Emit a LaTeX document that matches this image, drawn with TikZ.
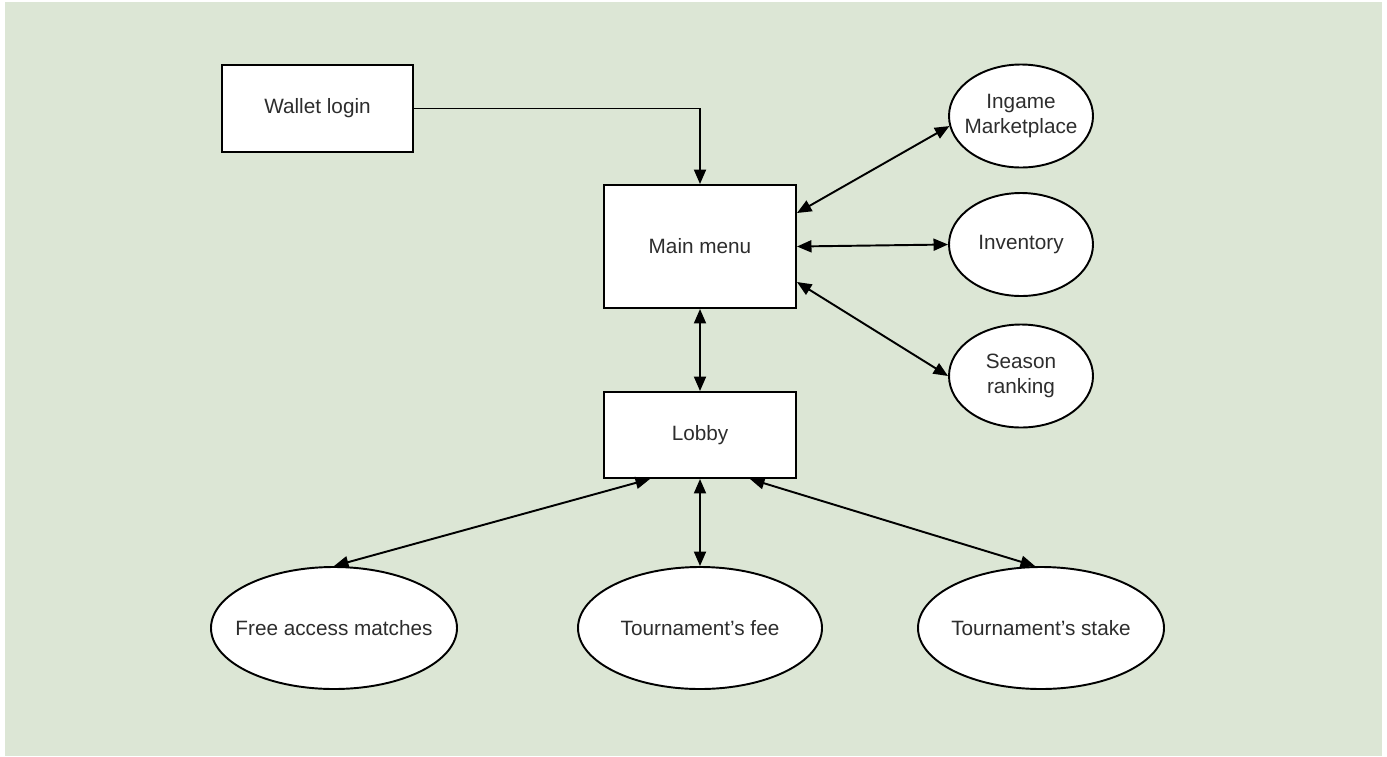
\documentclass[tikz,border=0pt]{standalone}
\usepackage{fontspec}
\setmainfont{Liberation Sans}
\usepackage{tikz}
\usetikzlibrary{arrows.meta,positioning,shapes}

\definecolor{bggreen}{RGB}{220,230,213}
\definecolor{txtgray}{RGB}{45,45,45}

\tikzset{
	box/.style={draw, fill=white, line width=1.1pt, minimum width=3.84cm, text=txtgray},
	oval/.style={draw, ellipse, fill=white, line width=1.1pt, inner xsep=-0.25cm, inner ysep=0pt, text=txtgray, align=center},
	arr/.style={line width=1.1pt, -{Triangle[length=0.29cm, width=0.24cm]}},
	dbl/.style={line width=1.1pt, {Triangle[length=0.29cm, width=0.24cm]}-{Triangle[length=0.29cm, width=0.24cm]}}
}

\begin{document}
\begin{tikzpicture}[font=\fontsize{11.8}{14}\selectfont]
	\useasboundingbox (0cm,0cm) rectangle (27.74cm,-15.12cm);
	\fill[bggreen] (0.1cm,-0.04cm) rectangle (27.64cm,-15.12cm);

	\node[box, minimum width=3.82cm, minimum height=1.74cm] (wallet) at (6.35cm,-2.17cm) {Wallet login};
	\node[box, minimum height=2.46cm] (main) at (14cm,-4.93cm) {Main menu};
	\node[box, minimum height=1.72cm] (lobby) at (14cm,-8.7cm) {Lobby};

	\node[oval, minimum width=2.88cm, minimum height=2.06cm] (market) at (20.42cm,-2.32cm) {Ingame\\Marketplace};
	\node[oval, minimum width=2.88cm, minimum height=2.06cm] (inventory) at (20.42cm,-4.89cm) {Inventory};
	\node[oval, minimum width=2.88cm, minimum height=2.06cm] (season) at (20.42cm,-7.52cm) {Season\\ranking};

	\node[oval, minimum width=4.92cm, minimum height=2.44cm] (free) at (6.68cm,-12.56cm) {Free access matches};
	\node[oval, minimum width=4.88cm, minimum height=2.44cm] (fee) at (14cm,-12.56cm) {Tournament's fee};
	\node[oval, minimum width=4.92cm, minimum height=2.44cm] (stake) at (20.82cm,-12.56cm) {Tournament's stake};

	\draw[arr] (wallet.east) -| (main.north);

	\draw[dbl] ([yshift=0.67cm]main.east) -- (market.188);
	\draw[dbl] (main.east) -- (inventory.west);
	\draw[dbl] ([yshift=-0.71cm]main.east) -- (season.west);
	\draw[dbl] (main.south) -- (lobby.north);

	\draw[dbl] ([xshift=-1cm]lobby.south) -- (free.north);
	\draw[dbl] (lobby.south) -- (fee.north);
	\draw[dbl] ([xshift=1cm]lobby.south) -- ([xshift=-0.12cm]stake.north);
\end{tikzpicture}
\end{document}
